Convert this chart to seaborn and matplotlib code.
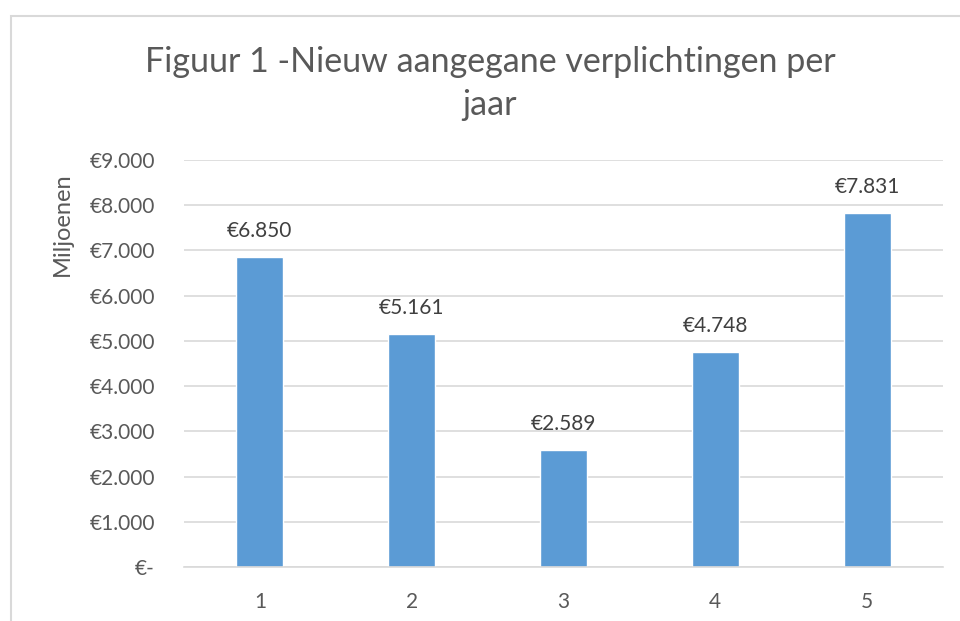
import matplotlib
matplotlib.use('Agg')
import matplotlib.pyplot as plt
import matplotlib.patches as patches
import pandas as pd
import seaborn as sns

# data
jaren = ['1', '2', '3', '4', '5']
verplichtingen = [6850, 5161, 2589, 4748, 7831]
y_ticks = [0, 1000, 2000, 3000, 4000, 5000, 6000, 7000, 8000, 9000]
titel_regels = ['Figuur 1 -Nieuw aangegane verplichtingen per', 'jaar']

df = pd.DataFrame({'jaar': jaren, 'bedrag': verplichtingen})

sns.set_theme(style='white')
plt.rcParams['font.family'] = ['Lato', 'DejaVu Sans']

grijs = '#595959'
lijn = '#D9D9D9'


def euro(v):
    # Excel boekhoudnotatie: nul wordt "€-"
    if v == 0:
        return '€-'
    return '€' + f'{int(round(v)):,}'.replace(',', '.')


fig = plt.figure(figsize=(9.6, 6.21), dpi=100)
ax = fig.add_axes([184 / 960, 1 - 567 / 621, 759 / 960, 407 / 621])

sns.barplot(data=df, x='jaar', y='bedrag', color='#5B9BD5', width=0.31,
            saturation=1, ax=ax)

ax.set_ylim(0, 9000)
ax.set_yticks(y_ticks)
ax.set_yticklabels([euro(t) for t in y_ticks])
ax.yaxis.grid(True, color=lijn, linewidth=1.2)
ax.set_axisbelow(True)
for s in ['top', 'right', 'left']:
    ax.spines[s].set_visible(False)
ax.spines['bottom'].set_color(lijn)
ax.spines['bottom'].set_linewidth(1.2)
ax.tick_params(axis='both', length=0, labelsize=15, labelcolor=grijs)
ax.tick_params(axis='y', pad=21)
ax.tick_params(axis='x', pad=18)
ax.set_xlabel('')
ax.set_ylabel('')

# waarden boven de staven
for i, v in enumerate(verplichtingen):
    ax.annotate(euro(v), (i, v), xytext=(0, 11.5), textcoords='offset points',
                ha='center', va='bottom', fontsize=15, color='#404040')

fig.text(62 / 960, 1 - 224 / 621, 'Miljoenen', rotation=90, ha='center',
         va='center', fontsize=17, color=grijs)

fig.text(490 / 960, 1 - 72 / 621, titel_regels[0], ha='center',
         va='baseline', fontsize=24.5, color=grijs)
fig.text(490 / 960, 1 - 115 / 621, titel_regels[1], ha='center',
         va='baseline', fontsize=24.5, color=grijs)

# kader van de grafiek
fig.patches.append(patches.Rectangle((10.5 / 960, -0.1), 1.2, 1.1 - 16 / 621,
                                     transform=fig.transFigure, fill=False,
                                     edgecolor=lijn, linewidth=1.5))

fig.savefig('out.png', dpi=100, facecolor='white')
